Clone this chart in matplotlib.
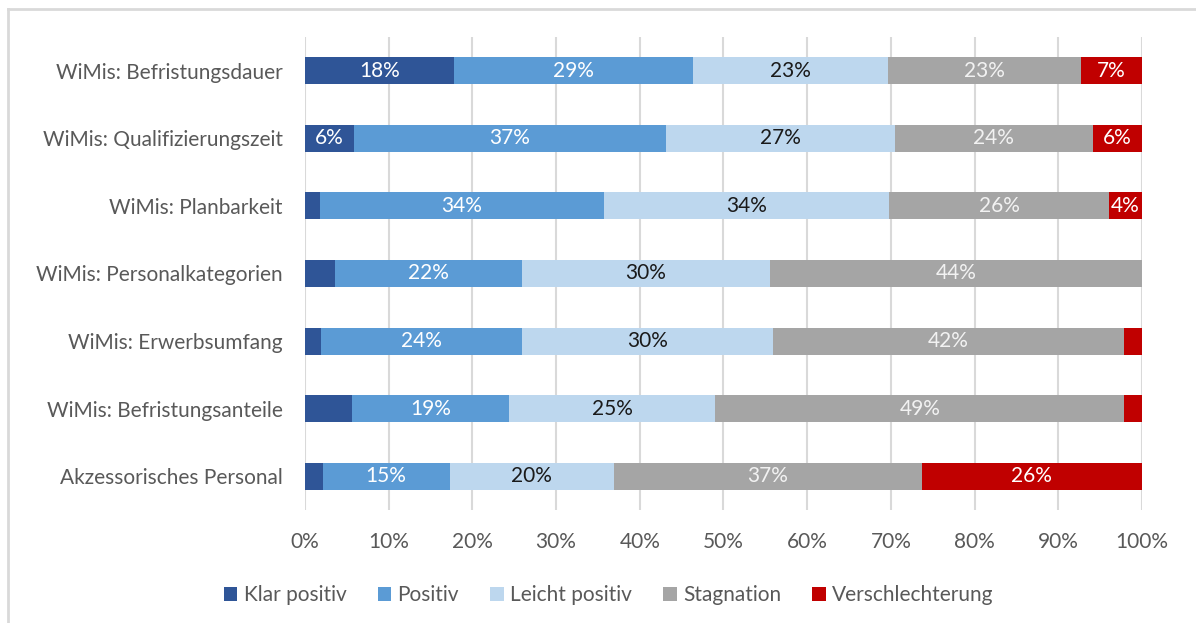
import numpy as np
import matplotlib.pyplot as plt
from matplotlib.lines import Line2D
from matplotlib.ticker import PercentFormatter

plt.rcParams['font.family'] = ['Lato', 'DejaVu Sans']

categories = ["WiMis: Befristungsdauer", "WiMis: Qualifizierungszeit",
              "WiMis: Planbarkeit", "WiMis: Personalkategorien",
              "WiMis: Erwerbsumfang", "WiMis: Befristungsanteile",
              "Akzessorisches Personal"]

series = ["Klar positiv", "Positiv", "Leicht positiv", "Stagnation",
          "Verschlechterung"]

klar_positiv     = [17.8, 5.8, 1.8, 3.6, 1.9, 5.6, 2.1]
positiv          = [28.6, 37.3, 33.9, 22.3, 24.0, 18.8, 15.2]
leicht_positiv   = [23.3, 27.4, 34.1, 29.7, 30.0, 24.6, 19.6]
stagnation       = [23.0, 23.6, 26.3, 44.4, 42.0, 48.9, 36.8]
verschlechterung = [7.3, 5.9, 3.9, 0.0, 2.1, 2.1, 26.3]

# segments without a data label in the original (category index, series index)
hidden_labels = [(2, 0), (3, 0), (3, 4), (4, 0), (4, 4), (5, 0), (5, 4), (6, 0)]

colors = ["#2F5597", "#5B9BD5", "#BDD7EE", "#A5A5A5", "#C00000"]
text_colors = ["white", "white", "#1A1A1A", "#F2F2F2", "white"]

data = np.array([klar_positiv, positiv, leicht_positiv, stagnation,
                 verschlechterung]) / 100.0

fs = 15

fig = plt.figure(figsize=(11.96, 6.23), dpi=100)
ax = fig.add_axes([0.2550, 0.1814, 0.6998, 0.7592])

y = np.arange(len(categories))
left = np.zeros(len(categories))
for s, name in enumerate(series):
    bars = ax.barh(y, data[s], left=left, height=0.4, color=colors[s],
                   label=name, zorder=3)
    for i, rect in enumerate(bars):
        if (i, s) in hidden_labels:
            continue
        v = data[s][i]
        ax.text(left[i] + v / 2, y[i], f"{round(v * 100):.0f}%",
                ha="center", va="center", color=text_colors[s],
                fontsize=fs, zorder=4)
    left += data[s]

ax.set_xlim(0, 1)
ax.set_ylim(len(categories) - 0.5, -0.5)
ax.set_xticks(np.arange(0, 1.01, 0.1))
ax.xaxis.set_major_formatter(PercentFormatter(1.0, decimals=0))
ax.set_yticks(y)
ax.set_yticklabels(categories)
ax.grid(axis="x", color="#D9D9D9", linewidth=1.5, zorder=0)
for sp in ax.spines.values():
    sp.set_visible(False)
ax.tick_params(axis="both", length=0, labelsize=fs, labelcolor="#595959")
ax.tick_params(axis="x", pad=16)
ax.tick_params(axis="y", pad=16)

fig.legend(loc="center", bbox_to_anchor=(0.509, 0.045), ncol=5, frameon=False,
           fontsize=fs, labelcolor="#595959", handlelength=0.65,
           handleheight=0.65, handletextpad=0.3, columnspacing=1.5)

# light chart border (top and left visible)
fig.add_artist(Line2D([8 / 1196, 1], [1 - 9 / 623, 1 - 9 / 623],
                      transform=fig.transFigure, color="#D9D9D9", lw=2))
fig.add_artist(Line2D([8 / 1196, 8 / 1196], [0, 1 - 9 / 623],
                      transform=fig.transFigure, color="#D9D9D9", lw=2))

fig.savefig("out.png", dpi=100)
